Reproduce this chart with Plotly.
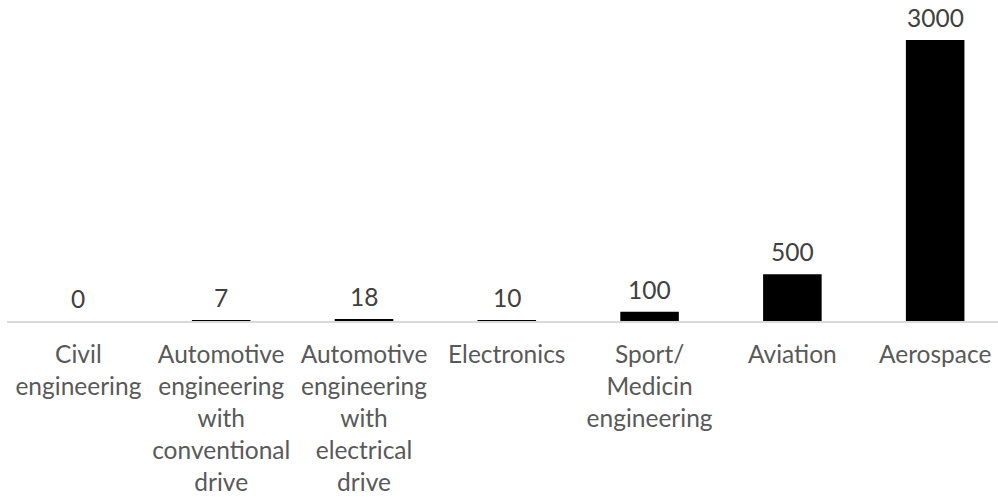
import plotly.graph_objects as go

categories = [
    "Civil<br>engineering",
    "Automotive<br>engineering<br>with<br>conventional<br>drive",
    "Automotive<br>engineering<br>with<br>electrical<br>drive",
    "Electronics",
    "Sport/<br>Medicin<br>engineering",
    "Aviation",
    "Aerospace",
]
values = [0, 7, 18, 10, 100, 500, 3000]
value_labels = [str(v) for v in values]

FONT = "Lato, 'Open Sans', sans-serif"
positions = list(range(len(categories)))

fig = go.Figure(
    go.Bar(
        x=positions,
        y=values,
        marker=dict(color="#000000", line=dict(width=0)),
        width=0.41,
    )
)

# value labels above each bar
for xi, v, lab in zip(positions, values, value_labels):
    fig.add_annotation(
        x=xi,
        y=v,
        text=lab,
        showarrow=False,
        yanchor="bottom",
        yshift=6,
        font=dict(family=FONT, size=24.5, color="#404040"),
    )

fig.update_layout(
    width=998,
    height=497,
    margin=dict(l=7, r=0, t=0, b=176),
    paper_bgcolor="white",
    plot_bgcolor="white",
    showlegend=False,
    font=dict(family=FONT, size=24.5, color="#595959"),
)

fig.update_xaxes(
    tickmode="array",
    tickvals=positions,
    ticktext=categories,
    range=[-0.5, 6.44],
    showline=True,
    linecolor="#d9d9d9",
    linewidth=1.5,
    showgrid=False,
    zeroline=False,
    ticks="outside",
    ticklen=11,
    tickcolor="rgba(0,0,0,0)",
    tickfont=dict(family=FONT, size=24.5, color="#595959"),
)

fig.update_yaxes(
    range=[0, 3427],
    visible=False,
    showgrid=False,
    zeroline=False,
)

fig.write_html("out.html")
